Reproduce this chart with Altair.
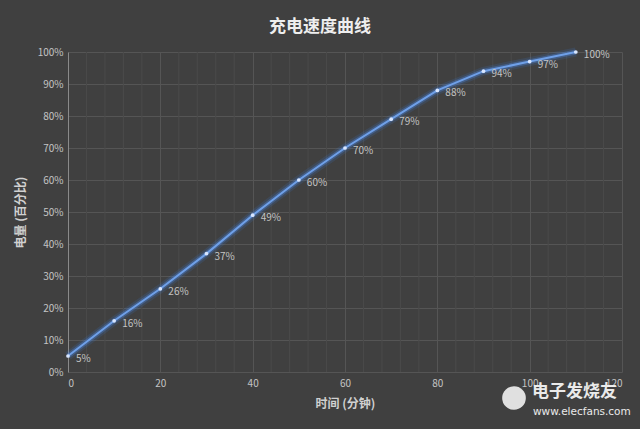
import altair as alt
import pandas as pd

minutes = [0, 10, 20, 30, 40, 50, 60, 70, 80, 90, 100, 110]
charge = [5, 16, 26, 37, 49, 60, 70, 79, 88, 94, 97, 100]
x_ticks = [0, 20, 40, 60, 80, 100, 120]
x_minor = [v for v in range(0, 121, 4) if v % 20 != 0]
y_ticks = [0, 0.1, 0.2, 0.3, 0.4, 0.5, 0.6, 0.7, 0.8, 0.9, 1.0]

df = pd.DataFrame({"t": minutes, "c": [v / 100 for v in charge],
                   "lab": [f"{v}%" for v in charge]})
minor_df = pd.DataFrame({"t": x_minor})

FONT = "Noto Sans CJK SC"
BG = "#404040"
TXT = "#c4c4c4"

xs = alt.Scale(domain=[0, 120], nice=False)
ys = alt.Scale(domain=[0, 1], nice=False)

minor = alt.Chart(minor_df).mark_rule(color="#4a4a4a", strokeWidth=1).encode(
    x=alt.X("t:Q", scale=xs)
)

base = alt.Chart(df).encode(
    x=alt.X("t:Q", scale=xs,
            axis=alt.Axis(values=x_ticks, title="时间 (分钟)", grid=True,
                          gridColor="#555555", domain=False, ticks=False,
                          labelPadding=6, titlePadding=10)),
    y=alt.Y("c:Q", scale=ys,
            axis=alt.Axis(values=y_ticks, format=".0%", title="电量 (百分比)",
                          grid=True, gridColor="#555555", domain=True,
                          domainColor="#8a8a8a", ticks=False, labelPadding=5,
                          titleX=-48, titleBaseline="middle")),
)

glow2 = base.mark_line(color="#3f7fe0", strokeWidth=9, opacity=0.15)
glow = base.mark_line(color="#4a88e6", strokeWidth=5, opacity=0.35)
line = base.mark_line(color="#6fa0e8", strokeWidth=2)
pts = base.mark_point(filled=True, color="#d8e6ff", size=14, opacity=1)
labels = base.mark_text(align="left", baseline="middle", dx=8, dy=3,
                        color=TXT, font=FONT, fontSize=10).encode(text="lab:N")

title = alt.Chart(pd.DataFrame({"s": ["充电速度曲线"]})).mark_text(
    align="center", baseline="middle", color="#eeeeee", font=FONT,
    fontSize=17, fontWeight="bold"
).encode(x=alt.value(252), y=alt.value(-25), text="s:N")

logo = alt.Chart(pd.DataFrame({"s": [1]})).mark_point(
    filled=True, color="#f2f2f2", size=560, opacity=0.9, shape="circle"
).encode(x=alt.value(446), y=alt.value(346))
wm1 = alt.Chart(pd.DataFrame({"s": ["电子发烧友"]})).mark_text(
    align="left", baseline="middle", color="#f4f4f4", font=FONT,
    fontSize=17, fontWeight="bold", opacity=0.95
).encode(x=alt.value(464), y=alt.value(340), text="s:N")
wm2 = alt.Chart(pd.DataFrame({"s": ["www.elecfans.com"]})).mark_text(
    align="left", baseline="middle", color="#f4f4f4", font="DejaVu Sans",
    fontSize=10.5, opacity=0.95
).encode(x=alt.value(465), y=alt.value(360), text="s:N")

chart = alt.layer(minor, glow2, glow, line, pts, labels, title,
                  logo, wm1, wm2).properties(
    width=554, height=320,
    autosize=alt.AutoSizeParams(type="none"),
    padding={"left": 68, "top": 52, "right": 18, "bottom": 57},
    background=BG,
).configure_view(stroke=None).configure_axis(
    labelColor=TXT, labelFont=FONT, labelFontSize=10,
    titleColor="#d0d0d0", titleFont=FONT, titleFontSize=12,
    titleFontWeight="bold",
)

chart.save("out.html", embed_options={"renderer": "svg", "actions": False})
